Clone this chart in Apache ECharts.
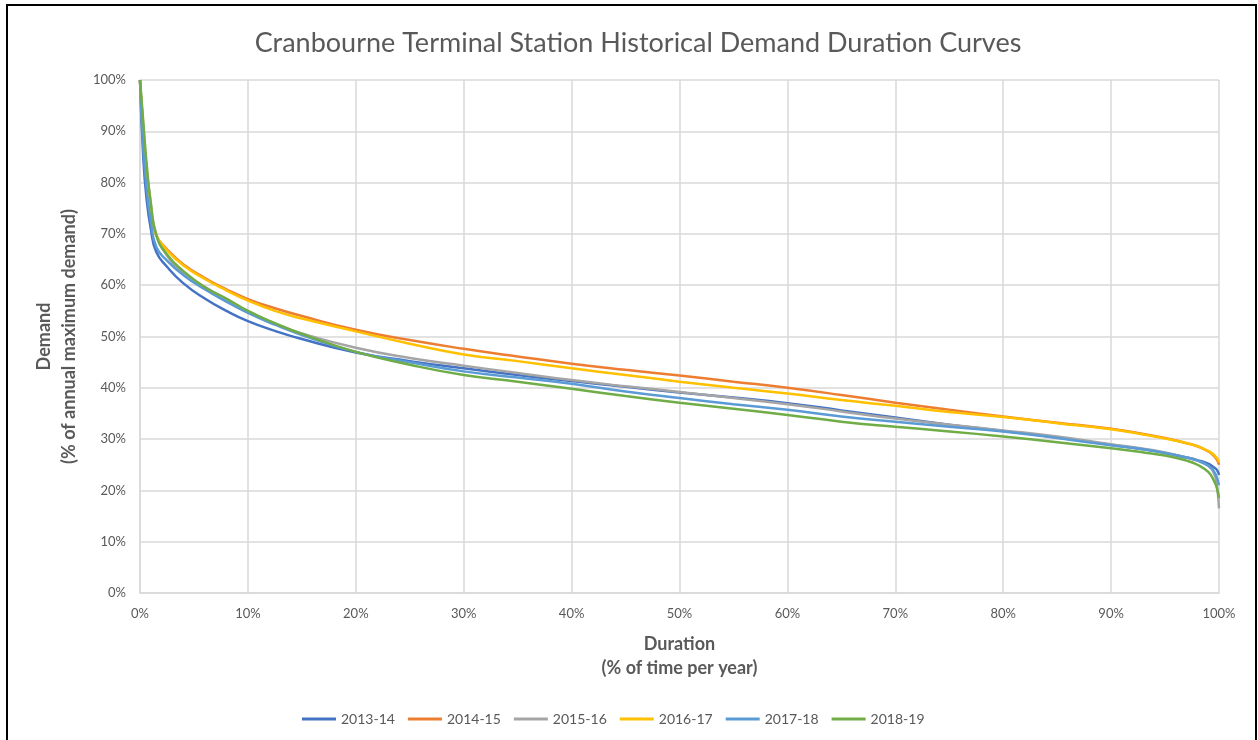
<!DOCTYPE html>
<html>
<head>
<meta charset="utf-8">
<script src="https://cdn.jsdelivr.net/npm/echarts@6/dist/echarts.min.js"></script>
<style>
html,body{margin:0;padding:0;background:#fff;}
#chart{width:1258px;height:740px;}
</style>
</head>
<body>
<div id="chart"></div>
<script>
const durations = [0, 0.3, 0.6, 1, 1.5, 2.5, 4, 6, 8, 10, 12.5, 15, 20, 25, 30, 35, 40, 45, 50, 55, 60, 65, 70, 75, 80, 85, 90, 93, 95, 97, 98, 99, 99.5, 99.8, 100];

const seriesNames = ['2013-14', '2014-15', '2015-16', '2016-17', '2017-18', '2018-19'];

const y2013_14 = [100, 85, 77, 71, 66.5, 63.6, 60.4, 57.4, 55.0, 53.0, 51.1, 49.5, 46.9, 45.2, 43.8, 42.5, 41.3, 40.2, 39.1, 38.1, 37.0, 35.6, 34.2, 32.8, 31.6, 30.3, 28.9, 28.0, 27.3, 26.4, 25.9, 25.2, 24.5, 24.0, 23.0];
const y2014_15 = [100, 90, 82, 75, 69.8, 67.0, 64.1, 61.4, 59.2, 57.3, 55.5, 54.0, 51.3, 49.3, 47.6, 46.1, 44.7, 43.5, 42.4, 41.2, 40.0, 38.6, 37.1, 35.7, 34.4, 33.2, 32.0, 31.0, 30.2, 29.2, 28.6, 27.6, 26.8, 26.0, 25.0];
const y2015_16 = [100, 91, 83, 76, 70, 65.8, 62.5, 59.7, 57.3, 54.9, 52.5, 50.6, 47.8, 45.8, 44.3, 42.9, 41.5, 40.3, 39.2, 38.0, 36.8, 35.4, 34.0, 32.8, 31.7, 30.5, 29.0, 28.1, 27.4, 26.4, 25.8, 24.8, 23.5, 21.0, 16.5];
const y2016_17 = [100, 89, 81, 74.5, 69.8, 66.8, 63.9, 61.2, 59.0, 57.0, 55.0, 53.5, 51.0, 48.6, 46.5, 45.2, 43.8, 42.5, 41.2, 40.0, 38.9, 37.6, 36.5, 35.3, 34.3, 33.1, 31.9, 30.9, 30.1, 29.2, 28.6, 27.7, 27.0, 26.3, 25.5];
const y2017_18 = [100, 87, 79, 72.5, 67.5, 64.8, 62.0, 59.2, 56.8, 54.6, 52.3, 50.3, 47.0, 45.0, 43.2, 42.0, 40.8, 39.3, 38.0, 36.8, 35.7, 34.4, 33.4, 32.4, 31.5, 30.2, 28.8, 28.0, 27.3, 26.4, 25.8, 24.8, 23.8, 22.5, 21.0];
const y2018_19 = [100, 92, 84, 76, 69.8, 66.0, 62.8, 59.6, 57.4, 55.0, 52.6, 50.5, 47.0, 44.5, 42.5, 41.2, 39.8, 38.4, 37.1, 35.9, 34.7, 33.4, 32.4, 31.5, 30.5, 29.4, 28.2, 27.4, 26.8, 25.8, 25.0, 23.6, 22.0, 20.5, 18.5];

const allValues = [y2013_14, y2014_15, y2015_16, y2016_17, y2017_18, y2018_19];
const colors = ['#4472C4', '#ED7D31', '#A5A5A5', '#FFC000', '#5B9BD5', '#70AD47'];

const FONT = 'Lato, "Open Sans", sans-serif';

const chart = echarts.init(document.getElementById('chart'), null, {renderer: 'canvas'});

const series = seriesNames.map((name, i) => ({
  name: name,
  type: 'line',
  data: durations.map((d, j) => [d, allValues[i][j]]),
  showSymbol: false,
  symbol: 'none',
  smooth: 0.5,
  lineStyle: {width: 2.5, color: colors[i]},
  itemStyle: {color: colors[i]},
  emphasis: {disabled: true},
  animation: false
}));

chart.setOption({
  animation: false,
  backgroundColor: '#fff',
  color: colors,
  title: {
    text: 'Cranbourne Terminal Station Historical Demand Duration Curves',
    left: 633,
    textAlign: 'center',
    top: 25,
    textStyle: {fontFamily: FONT, fontSize: 27, fontWeight: 'normal', color: '#595959'}
  },
  grid: {left: 140, right: 39, top: 80, bottom: 147, containLabel: false},
  legend: {
    data: seriesNames,
    top: 707,
    left: 297,
    icon: 'rect',
    itemWidth: 34,
    itemHeight: 3,
    itemGap: 13,
    textStyle: {fontFamily: FONT, fontSize: 14, color: '#595959'}
  },
  xAxis: {
    type: 'value',
    min: 0, max: 100, interval: 10,
    name: 'Duration\n(% of time per year)',
    nameLocation: 'middle',
    nameGap: 39,
    nameTextStyle: {fontFamily: FONT, fontSize: 18, fontWeight: 'bold', color: '#595959', lineHeight: 24},
    axisLine: {show: true, lineStyle: {color: '#d9d9d9', width: 1.5}},
    axisTick: {show: false},
    axisLabel: {formatter: '{value}%', fontFamily: FONT, fontSize: 13, color: '#595959', margin: 14},
    splitLine: {show: true, lineStyle: {color: '#d9d9d9', width: 1.5}}
  },
  yAxis: {
    type: 'value',
    min: 0, max: 100, interval: 10,
    name: 'Demand\n(% of annual maximum demand)',
    nameLocation: 'middle',
    nameGap: 57,
    nameRotate: 90,
    nameTextStyle: {fontFamily: FONT, fontSize: 18, fontWeight: 'bold', color: '#595959', lineHeight: 25},
    axisLine: {show: true, lineStyle: {color: '#d9d9d9', width: 1.5}},
    axisTick: {show: false},
    axisLabel: {formatter: '{value}%', fontFamily: FONT, fontSize: 13, color: '#595959', margin: 14},
    splitLine: {show: true, lineStyle: {color: '#d9d9d9', width: 1.5}}
  },
  graphic: [{
    type: 'rect',
    silent: true,
    z: 100,
    shape: {x: 7, y: 5, width: 1249, height: 745},
    style: {fill: 'none', stroke: '#000', lineWidth: 2}
  }],
  series: series
});
</script>
</body>
</html>
